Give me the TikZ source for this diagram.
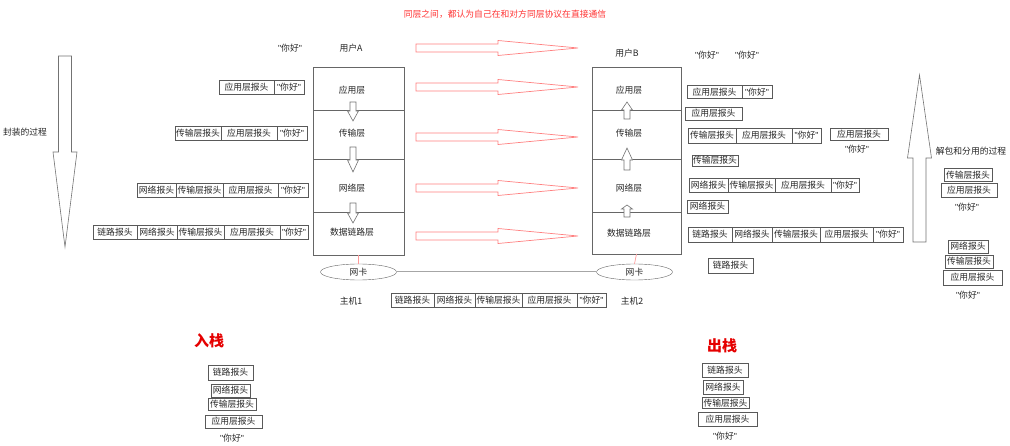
\documentclass[tikz,border=0pt]{standalone}
\usepackage{fontspec}
\setmainfont{Noto Sans CJK SC}
\newfontfamily\quotefont{Liberation Sans}
\usetikzlibrary{positioning,shapes.geometric}
% hollow vertical arrow: style, x, y of tail, y of head base, y of tip, half shaft, half head
\newcommand{\vfat}[7]{\draw[#1] ({#2-#6},#3) -- ({#2-#6},#4) -- ({#2-#7},#4) -- (#2,#5) -- ({#2+#7},#4) -- ({#2+#6},#4) -- ({#2+#6},#3) -- cycle;}
\newcommand{\nihao}{{\quotefont"}你好{\quotefont"}}

\begin{document}
\begin{tikzpicture}[x=1pt,y=-1pt,font=\fontsize{8.8}{10}\selectfont,
  hdr/.style={draw=black!65,inner sep=0pt,outer sep=0pt,minimum height=14pt,text=black!85},
  layer/.style={draw=black!60,inner sep=0pt,outer sep=0pt},
  txt/.style={text=black!85,inner sep=0pt},
  hollow/.style={draw=black!55,fill=white,line width=0.6pt},
  redarrow/.style={draw=red!50,fill=white,line width=0.7pt},
  nic/.style={ellipse,draw=black!60,minimum width=76pt,minimum height=16pt,inner sep=0pt,text=black!85},
  stacktitle/.style={text=red!90!black,inner sep=0pt,font=\fontsize{15}{16}\selectfont\bfseries}]
\useasboundingbox (0,0) rectangle (1010,446);

% title
\node[text=red!80,inner sep=0pt] (title) at (505,14) {同层之间，都认为自己在和对方同层协议在直接通信};

% big arrows
\vfat{hollow}{65}{56}{152}{247}{6.5}{12}
\node[txt] (enc) at (25,132) {封装的过程};
\vfat{hollow}{919.5}{242}{158}{75}{6.5}{12}
\node[txt] (dec) at (971,151) {解包和分用的过程};

% peer arrows
\foreach \y in {48,87,137,188,236}
  \draw[redarrow] (416,\y-4) -- (498,\y-4) -- (498,\y-7.5) -- (578,\y) -- (498,\y+7.5) -- (498,\y+4) -- (416,\y+4) -- cycle;

% host 1
\node[txt] (userA) at (351,48) {用户A};
\node[txt] (helloA) at (290,48) {\nihao};
\node[layer,minimum width=91pt,minimum height=43pt] (appA) at (358.5,88.5) {};
\node[layer,minimum width=91pt,minimum height=49pt,below=0pt of appA] (tranA) {};
\node[layer,minimum width=91pt,minimum height=53pt,below=0pt of tranA] (netA) {};
\node[layer,minimum width=91pt,minimum height=43pt,below=0pt of netA] (linkA) {};
\node[txt] (appAl) at (352,90) {应用层};
\node[txt] (tranAl) at (352,133) {传输层};
\node[txt] (netAl) at (352,188) {网络层};
\node[txt] (linkAl) at (352,232) {数据链路层};
\vfat{hollow}{353}{102}{111}{121}{3}{5.5}
\vfat{hollow}{353}{147}{160}{172}{3}{5.5}
\vfat{hollow}{353}{203}{213}{223}{3}{5.5}
\node[nic] (nicA) at (358.5,272) {网卡};
\draw[red!40,line width=0.7pt] (linkA.south) -- (nicA.north);
\node[txt] (hostA) at (351,301) {主机1};

% host 2
\node[txt] (userB) at (627,53) {用户B};
\node[layer,minimum width=89pt,minimum height=43pt] (appB) at (636.5,88.5) {};
\node[layer,minimum width=89pt,minimum height=49pt,below=0pt of appB] (tranB) {};
\node[layer,minimum width=89pt,minimum height=53pt,below=0pt of tranB] (netB) {};
\node[layer,minimum width=89pt,minimum height=42pt,below=0pt of netB] (linkB) {};
\node[txt] (appBl) at (629,90) {应用层};
\node[txt] (tranBl) at (629,133) {传输层};
\node[txt] (netBl) at (629,188) {网络层};
\node[txt] (linkBl) at (629,233) {数据链路层};
\vfat{hollow}{627}{119}{110}{102}{3}{5.5}
\vfat{hollow}{627}{170}{160}{148}{3}{5.5}
\vfat{hollow}{627}{217}{209}{205}{3}{5.5}
\node[nic] (nicB) at (634.5,272) {网卡};
\draw[red!40,line width=0.7pt] (linkB.south) -- (nicB.north);
\node[txt] (hostB) at (632,301) {主机2};
\draw[black!35,line width=1pt] (nicA.east) -- (nicB.west);

% headers, sending side
\node[hdr,anchor=west,minimum width=55pt] (l1a) at (219,87) {应用层报头};
\node[hdr,minimum width=30pt,right=0pt of l1a] (l1b) {\nihao};
\node[hdr,anchor=west,minimum width=46pt] (l2a) at (175,133) {传输层报头};
\node[hdr,minimum width=56pt,right=0pt of l2a] (l2b) {应用层报头};
\node[hdr,minimum width=30pt,right=0pt of l2b] (l2c) {\nihao};
\node[hdr,anchor=west,minimum width=39pt] (l3a) at (137,190.5) {网络报头};
\node[hdr,minimum width=47pt,right=0pt of l3a] (l3b) {传输层报头};
\node[hdr,minimum width=55pt,right=0pt of l3b] (l3c) {应用层报头};
\node[hdr,minimum width=30pt,right=0pt of l3c] (l3d) {\nihao};
\node[hdr,anchor=west,minimum width=44pt] (l4a) at (93,232) {链路报头};
\node[hdr,minimum width=40pt,right=0pt of l4a] (l4b) {网络报头};
\node[hdr,minimum width=47pt,right=0pt of l4b] (l4c) {传输层报头};
\node[hdr,minimum width=56pt,right=0pt of l4c] (l4d) {应用层报头};
\node[hdr,minimum width=28pt,right=0pt of l4d] (l4e) {\nihao};

% frame on the wire
\node[hdr,anchor=west,minimum width=43pt] (m1a) at (391,300) {链路报头};
\node[hdr,minimum width=41pt,right=0pt of m1a] (m1b) {网络报头};
\node[hdr,minimum width=47pt,right=0pt of m1b] (m1c) {传输层报头};
\node[hdr,minimum width=55pt,right=0pt of m1c] (m1d) {应用层报头};
\node[hdr,minimum width=29pt,right=0pt of m1d] (m1e) {\nihao};

% headers, receiving side
\node[txt] (helloB1) at (707,55) {\nihao};
\node[txt] (helloB2) at (747,55) {\nihao};
\node[hdr,anchor=west,minimum width=55pt,minimum height=13pt] (r1a) at (687,92) {应用层报头};
\node[hdr,minimum width=30pt,minimum height=13pt,right=0pt of r1a] (r1b) {\nihao};
\node[hdr,anchor=west,minimum width=57pt,minimum height=13pt] (r2a) at (685,113.5) {应用层报头};
\node[hdr,anchor=west,minimum width=48pt,minimum height=15pt] (r3a) at (688,135.5) {传输层报头};
\node[hdr,minimum width=56pt,minimum height=15pt,right=0pt of r3a] (r3b) {应用层报头};
\node[hdr,minimum width=29pt,minimum height=15pt,right=0pt of r3b] (r3c) {\nihao};
\node[hdr,anchor=west,minimum width=58pt,minimum height=12pt] (rsa) at (830,134) {应用层报头};
\node[txt] (rsb) at (857,149) {\nihao};
\node[hdr,anchor=west,minimum width=46pt,minimum height=11pt] (r4a) at (692,160.5) {传输层报头};
\node[hdr,anchor=west,minimum width=39pt] (r5a) at (689,185) {网络报头};
\node[hdr,minimum width=47pt,right=0pt of r5a] (r5b) {传输层报头};
\node[hdr,minimum width=56pt,right=0pt of r5b] (r5c) {应用层报头};
\node[hdr,minimum width=28pt,right=0pt of r5c] (r5d) {\nihao};
\node[hdr,anchor=west,minimum width=41pt,minimum height=13pt] (r6a) at (687,206.5) {网络报头};
\node[hdr,anchor=west,minimum width=44pt,minimum height=15pt] (r7a) at (688,234.5) {链路报头};
\node[hdr,minimum width=40pt,minimum height=15pt,right=0pt of r7a] (r7b) {网络报头};
\node[hdr,minimum width=48pt,minimum height=15pt,right=0pt of r7b] (r7c) {传输层报头};
\node[hdr,minimum width=53pt,minimum height=15pt,right=0pt of r7c] (r7d) {应用层报头};
\node[hdr,minimum width=30pt,minimum height=15pt,right=0pt of r7d] (r7e) {\nihao};
\node[hdr,anchor=west,minimum width=45pt,minimum height=15pt] (r8a) at (708,265.5) {链路报头};

% far right stacks
\node[hdr,anchor=west,minimum width=48pt,minimum height=13pt] (s1a) at (944,175) {传输层报头};
\node[hdr,anchor=west,minimum width=56pt] (s1b) at (941,190) {应用层报头};
\node[txt] (s1c) at (967,207) {\nihao};
\node[hdr,anchor=west,minimum width=40pt,minimum height=13pt] (s2a) at (948,246.5) {网络报头};
\node[hdr,anchor=west,minimum width=48pt,minimum height=13pt] (s2b) at (945,261.5) {传输层报头};
\node[hdr,anchor=west,minimum width=59pt,minimum height=15pt] (s2c) at (943,277.5) {应用层报头};
\node[txt] (s2d) at (968,295) {\nihao};

% push
\node[stacktitle] (push) at (209,341) {入栈};
\node[hdr,anchor=west,minimum width=45pt,minimum height=15pt] (p1) at (208,372.5) {链路报头};
\node[hdr,anchor=west,minimum width=39pt,minimum height=13pt] (p2) at (211,390.5) {网络报头};
\node[hdr,anchor=west,minimum width=48pt,minimum height=12pt] (p3) at (208,404) {传输层报头};
\node[hdr,anchor=west,minimum width=57pt,minimum height=13pt] (p4) at (205,421.5) {应用层报头};
\node[txt] (p5) at (232,438) {\nihao};

% pop
\node[stacktitle] (pop) at (722,346) {出栈};
\node[hdr,anchor=west,minimum width=46pt,minimum height=14pt] (q1) at (702,370) {链路报头};
\node[hdr,anchor=west,minimum width=40pt,minimum height=14pt] (q2) at (703,387.5) {网络报头};
\node[hdr,anchor=west,minimum width=47pt,minimum height=11pt] (q3) at (702,403) {传输层报头};
\node[hdr,anchor=west,minimum width=59pt,minimum height=14pt] (q4) at (698,419) {应用层报头};
\node[txt] (q5) at (725,436) {\nihao};
\end{tikzpicture}
\end{document}
